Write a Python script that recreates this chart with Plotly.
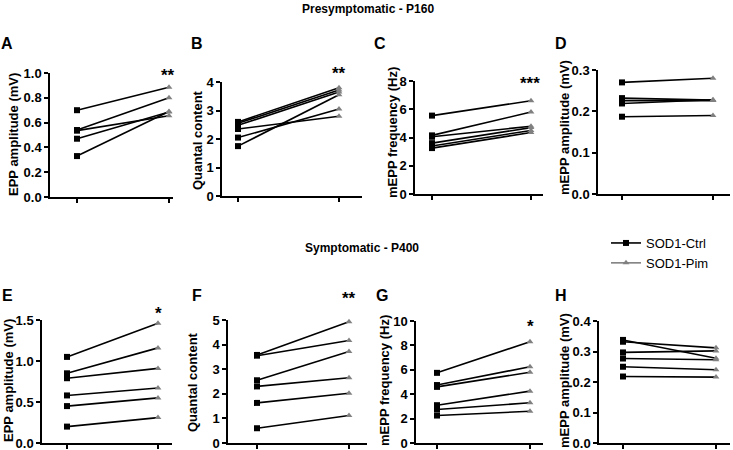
import plotly.graph_objects as go

W, H = 733, 450

# ---------------- data ----------------
ctrl_A = [0.70, 0.54, 0.535, 0.47, 0.33]
pim_A = [0.885, 0.80, 0.655, 0.685, 0.69]
ctrl_B = [2.60, 2.55, 2.48, 2.35, 2.05, 1.75]
pim_B = [3.80, 3.72, 3.65, 2.80, 3.05, 3.55]
ctrl_C = [5.55, 4.15, 4.05, 3.60, 3.40, 3.25]
pim_C = [6.60, 5.80, 4.80, 4.70, 4.50, 4.35]
ctrl_D = [0.270, 0.232, 0.226, 0.219, 0.187]
pim_D = [0.280, 0.227, 0.226, 0.228, 0.190]
ctrl_E = [1.05, 0.85, 0.79, 0.58, 0.45, 0.20]
pim_E = [1.46, 1.16, 0.91, 0.67, 0.55, 0.31]
ctrl_F = [3.58, 3.55, 2.55, 2.30, 1.63, 0.60]
pim_F = [4.93, 4.17, 3.72, 2.65, 2.02, 1.12]
ctrl_G = [5.75, 4.75, 4.60, 3.10, 2.75, 2.25]
pim_G = [8.30, 6.25, 5.80, 4.25, 3.30, 2.60]
ctrl_H = [0.338, 0.332, 0.297, 0.277, 0.250, 0.218]
pim_H = [0.278, 0.312, 0.302, 0.273, 0.240, 0.216]

y_labels = ["EPP amplitude (mV)", "Quantal content", "mEPP frequency (Hz)", "mEPP amplitude (mV)",
            "EPP amplitude (mV)", "Quantal content", "mEPP frequency (Hz)", "mEPP amplitude (mV)"]
panel_letters = ["A", "B", "C", "D", "E", "F", "G", "H"]
y_max = [1.0, 4, 8, 0.3, 1.5, 5, 10, 0.4]
y_dtick = [0.2, 1, 2, 0.1, 0.5, 1, 2, 0.1]
y_fmt = [".1f", "d", "d", ".1f", ".1f", "d", "d", ".1f"]
stars = ["**", "**", "***", "", "*", "**", "*", ""]
row_titles = ["Presymptomatic - P160", "Symptomatic - P400"]
series_names = ["SOD1-Ctrl", "SOD1-Pim"]

ctrls = [ctrl_A, ctrl_B, ctrl_C, ctrl_D, ctrl_E, ctrl_F, ctrl_G, ctrl_H]
pims = [pim_A, pim_B, pim_C, pim_D, pim_E, pim_F, pim_G, pim_H]

# ---------------- layout geometry (screen pixels) ----------------
# (yaxis x, xaxis end x, top y, bottom y, tick0 x, tick1 x)
boxes = [
    (50, 173, 73, 197, 77, 169),
    (222, 362, 82, 196, 238, 339),
    (415, 543, 81, 194, 432, 531),
    (598, 730, 70, 194, 622, 713),
    (42, 172, 320, 443, 67, 158),
    (228, 367, 320, 443, 257, 349),
    (416, 543, 321, 443, 437, 530),
    (599, 730, 321, 443, 623, 716),
]
ylab_pos = [(13, 135), (197, 140), (392, 133), (564, 128),
            (8, 381), (192, 382), (384, 381), (564, 381)]
letter_pos = [(7, 43), (197, 43), (380, 43), (561, 43),
              (7, 295), (197, 295), (382, 295), (561, 295)]
star_pos = [(168, 76), (339, 74), (530, 84), None,
            (158, 313), (349, 298), (530, 326), None]

FONT = "Liberation Sans, Arial, sans-serif"
GREY = "#808080"


def px2x(px):
    return px / W


def py2y(py):
    return 1 - py / H


fig = go.Figure()
layout = dict(width=W, height=H, margin=dict(l=0, r=0, t=0, b=0, autoexpand=False),
              paper_bgcolor="white", plot_bgcolor="white", showlegend=True)
annotations = []

for i in range(8):
    ax = "" if i == 0 else str(i + 1)
    xa, ya = "x" + ax, "y" + ax
    yx, xend, top, bot, t0, t1 = boxes[i]
    ppu = t1 - t0
    xr = [-(t0 - yx) / ppu, 1 + (xend - t1) / ppu]
    layout["xaxis" + ax] = dict(domain=[px2x(yx), px2x(xend)], range=xr, anchor=ya,
                                showline=True, linecolor="black", linewidth=1.5,
                                ticks="outside", ticklen=4, tickwidth=1.5, tickcolor="black",
                                tickvals=[0, 1], showticklabels=False, showgrid=False,
                                zeroline=False, automargin=False)
    layout["yaxis" + ax] = dict(domain=[py2y(bot), py2y(top)], range=[0, y_max[i]], anchor=xa,
                                showline=True, linecolor="black", linewidth=1.5,
                                ticks="outside", ticklen=4, tickwidth=1.5, tickcolor="black",
                                dtick=y_dtick[i], tick0=0, tickformat=y_fmt[i],
                                tickfont=dict(family=FONT, size=13, color="black", weight="bold"),
                                ticklabeloverflow="allow",
                                showgrid=False, zeroline=False, automargin=False)
    c, p = ctrls[i], pims[i]
    for cv, pv in zip(c, p):
        fig.add_trace(go.Scatter(x=[0, 1], y=[cv, pv], mode="lines", xaxis=xa, yaxis=ya,
                                 line=dict(color="black", width=1.6), showlegend=False,
                                 hoverinfo="skip", cliponaxis=False))
    fig.add_trace(go.Scatter(x=[0] * len(c), y=c, mode="markers", xaxis=xa, yaxis=ya,
                             marker=dict(symbol="square", size=6, color="black"),
                             showlegend=False, cliponaxis=False))
    fig.add_trace(go.Scatter(x=[1] * len(p), y=p, mode="markers", xaxis=xa, yaxis=ya,
                             marker=dict(symbol="triangle-up", size=6, color=GREY),
                             showlegend=False, cliponaxis=False))
    lx, ly = ylab_pos[i]
    annotations.append(dict(text=y_labels[i], xref="paper", yref="paper", x=px2x(lx), y=py2y(ly),
                            textangle=-90, showarrow=False, xanchor="center", yanchor="middle",
                            font=dict(family=FONT, size=13, color="black", weight="bold")))
    lx, ly = letter_pos[i]
    annotations.append(dict(text=panel_letters[i], xref="paper", yref="paper", x=px2x(lx), y=py2y(ly),
                            showarrow=False, xanchor="center", yanchor="middle",
                            font=dict(family=FONT, size=16, color="black", weight="bold")))
    if stars[i]:
        sx, sy = star_pos[i]
        annotations.append(dict(text=stars[i], xref="paper", yref="paper", x=px2x(sx), y=py2y(sy),
                                showarrow=False, xanchor="center", yanchor="middle",
                                font=dict(family=FONT, size=17, color="black", weight="bold")))

annotations.append(dict(text=row_titles[0], xref="paper", yref="paper", x=px2x(368), y=py2y(9),
                        showarrow=False, xanchor="center", yanchor="middle",
                        font=dict(family=FONT, size=12, color="black", weight="bold")))
annotations.append(dict(text=row_titles[1], xref="paper", yref="paper", x=px2x(362), y=py2y(248),
                        showarrow=False, xanchor="center", yanchor="middle",
                        font=dict(family=FONT, size=12, color="black", weight="bold")))

# legend entries (no data)
fig.add_trace(go.Scatter(x=[None], y=[None], mode="lines+markers", name=series_names[0],
                         line=dict(color="black", width=1.6),
                         marker=dict(symbol="square", size=6, color="black")))
fig.add_trace(go.Scatter(x=[None], y=[None], mode="lines+markers", name=series_names[1],
                         line=dict(color=GREY, width=1.6),
                         marker=dict(symbol="triangle-up", size=6, color=GREY)))

layout["annotations"] = annotations
layout["legend"] = dict(x=px2x(606), y=py2y(228), xanchor="left", yanchor="top",
                        font=dict(family=FONT, size=13, color="black"),
                        bgcolor="rgba(0,0,0,0)", itemwidth=30, tracegroupgap=0)
fig.update_layout(**layout)
fig.write_html("out.html", config={"displayModeBar": False},
               post_script="document.body.style.margin='0px';"
                           "document.documentElement.style.overflow='hidden';")
